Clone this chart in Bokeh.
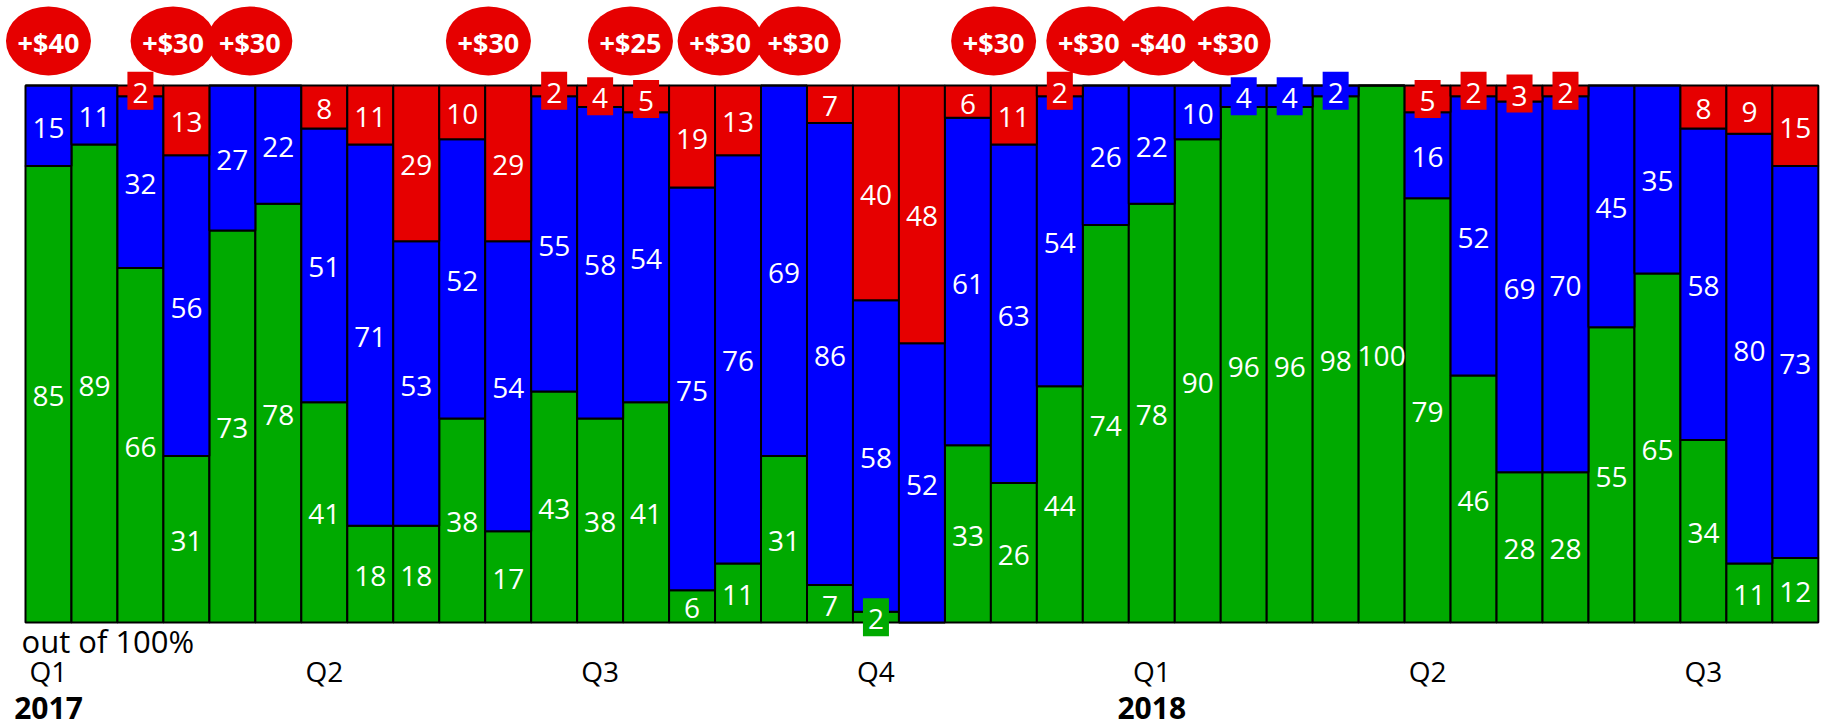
from bokeh.plotting import figure
from bokeh.models import Range1d, FixedTicker, LinearAxis, ColumnDataSource
from bokeh.core.properties import value
from bokeh.embed import file_html
from bokeh.resources import INLINE

# ---- data -------------------------------------------------------------
periods = list(range(39))
green = [85, 89, 66, 31, 73, 78, 41, 18, 18, 38, 17, 43, 38, 41, 6, 11, 31, 7, 2, 0,
         33, 26, 44, 74, 78, 90, 96, 96, 98, 100, 79, 46, 28, 28, 55, 65, 34, 11, 12]
blue = [15, 11, 32, 56, 27, 22, 51, 71, 53, 52, 54, 55, 58, 54, 75, 76, 69, 86, 58, 52,
        61, 63, 54, 26, 22, 10, 4, 4, 2, 0, 16, 52, 69, 70, 45, 35, 58, 80, 73]
red = [0, 0, 2, 13, 0, 0, 8, 11, 29, 10, 29, 2, 4, 5, 19, 13, 0, 7, 40, 48,
       6, 11, 2, 0, 0, 0, 0, 0, 0, 0, 5, 2, 3, 2, 0, 0, 8, 9, 15]

quarter_ticks = [0, 6, 12, 18, 24, 30, 36]
quarter_labels = ["Q1", "Q2", "Q3", "Q4", "Q1", "Q2", "Q3"]
year_ticks = [0, 24]
year_labels = ["2017", "2018"]

bubble_x = [0.0, 2.71, 4.38, 9.57, 12.66, 14.61, 16.31, 20.56, 22.63, 24.15, 25.66]
bubble_labels = ["+$40", "+$30", "+$30", "+$30", "+$25", "+$30", "+$30",
                 "+$30", "+$30", "-$40", "+$30"]
note = "out of 100%"

# ---- style ------------------------------------------------------------
GREEN = "#00AA00"
BLUE = "#0000FF"
RED = "#E60000"
FONT = "Open Sans"
SERIES = [("green", GREEN), ("blue", BLUE), ("red", RED)]

p = figure(width=1824, height=726, output_backend="svg", toolbar_location=None,
           x_range=Range1d(-1.0438, 38.634), y_range=Range1d(-6.704, 115.829),
           min_border_left=0, min_border_right=0, min_border_top=0,
           min_border_bottom=68, y_axis_location=None, outline_line_color=None)
p.xgrid.visible = False
p.ygrid.visible = False
p.background_fill_color = "white"

src = ColumnDataSource(dict(x=periods, green=green, blue=blue, red=red))
p.vbar_stack(["green", "blue", "red"], x="x", width=1.0, source=src,
             fill_color=[GREEN, BLUE, RED], line_color="black", line_width=2)

# segment labels
lx, ly, lt, bx, by, bc = [], [], [], [], [], []
for i in periods:
    base = 0
    for name, col in SERIES:
        v = {"green": green, "blue": blue, "red": red}[name][i]
        if v > 0:
            yc = base + v / 2
            lx.append(i); ly.append(yc); lt.append(str(v))
            if v <= 5:
                bx.append(i); by.append(yc); bc.append(col)
        base += v

p.rect(x=bx, y=by, width=26, height=38, width_units="screen", height_units="screen",
       fill_color=bc, line_color=None)
p.text(x=lx, y=ly, text=lt, text_color="white", text_font=value(FONT),
       text_font_size="28px", text_align="center", text_baseline="middle", y_offset=2)

# price-change bubbles
p.ellipse(x=bubble_x, y=[108.29] * len(bubble_x), width=85, height=69,
          width_units="screen", height_units="screen", fill_color=RED, line_color=None)
p.text(x=bubble_x, y=[108.29] * len(bubble_x), text=bubble_labels, text_color="white",
       text_font=value(FONT), text_font_style="bold", text_font_size="27px",
       text_align="center", text_baseline="middle", y_offset=2)

# note
p.text(x=[-0.587], y=[-3.45], text=[note], text_color="black", text_font=value(FONT),
       text_font_size="31px", text_align="left", text_baseline="middle")

# axes
ax = p.xaxis[0]
ax.ticker = FixedTicker(ticks=quarter_ticks)
ax.major_label_overrides = dict(zip(quarter_ticks, quarter_labels))
ax.axis_line_color = None
ax.major_tick_line_color = None
ax.minor_tick_line_color = None
ax.major_tick_out = 0
ax.major_tick_in = 0
ax.major_label_standoff = -7
ax.major_label_text_font = FONT
ax.major_label_text_font_size = "28px"
ax.major_label_text_color = "black"

ax2 = LinearAxis(ticker=FixedTicker(ticks=year_ticks),
                 major_label_overrides=dict(zip(year_ticks, year_labels)))
ax2.axis_line_color = None
ax2.major_tick_line_color = None
ax2.minor_tick_line_color = None
ax2.major_tick_out = 0
ax2.major_tick_in = 0
ax2.major_label_standoff = 4
ax2.major_label_text_font = FONT
ax2.major_label_text_font_size = "30px"
ax2.major_label_text_font_style = "bold"
ax2.major_label_text_color = "black"
p.add_layout(ax2, "below")

open("out.html", "w").write(file_html(p, INLINE))
